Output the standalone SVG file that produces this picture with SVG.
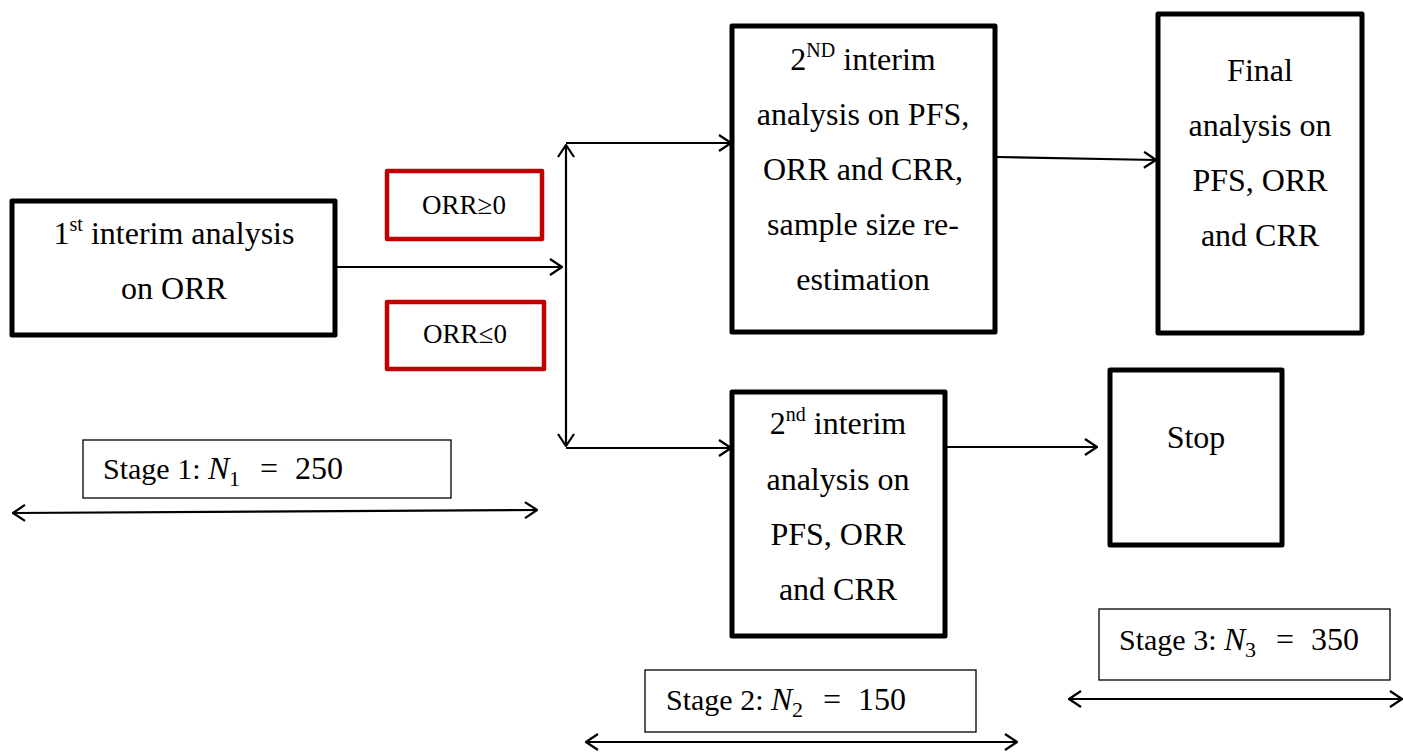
<svg xmlns="http://www.w3.org/2000/svg" width="1403" height="752" viewBox="0 0 1403 752">
<defs>
<marker id="arr" viewBox="0 0 14 18" refX="13" refY="9" markerWidth="14" markerHeight="18" markerUnits="userSpaceOnUse" orient="auto-start-reverse">
<path d="M1,1 L13,9 L1,17" fill="none" stroke="#000" stroke-width="2.2"/>
</marker>
</defs>
<style>
.node{fill:#fff;stroke:#000;stroke-width:5;stroke-linejoin:round}
.red{fill:#fff;stroke:#c00000;stroke-width:4.5;stroke-linejoin:round}
.stage{fill:#fff;stroke:#000;stroke-width:1.3}
.t{font-family:"Liberation Serif","Times New Roman",serif;font-size:32px;fill:#000;text-anchor:middle}
.s{font-family:"Liberation Serif","Times New Roman",serif;font-size:27px;fill:#000;text-anchor:middle}
.st{font-family:"Liberation Serif","Times New Roman",serif;font-size:30px;fill:#000}
.m{font-family:"Liberation Serif","Times New Roman",serif;font-size:32px;fill:#000}
.sup{font-size:20px}
.c{fill:none;stroke:#000;stroke-width:2.2}
</style>
<g id="connectors">
<line class="c" x1="337" y1="267" x2="562" y2="267" marker-end="url(#arr)"/>
<line class="c" x1="566" y1="145" x2="566" y2="446" marker-start="url(#arr)" marker-end="url(#arr)"/>
<line class="c" x1="566" y1="143" x2="731" y2="143" marker-end="url(#arr)"/>
<line class="c" x1="566" y1="448" x2="731" y2="448" marker-end="url(#arr)"/>
<line class="c" x1="997" y1="157" x2="1156" y2="160" marker-end="url(#arr)"/>
<line class="c" x1="947" y1="447" x2="1097" y2="447" marker-end="url(#arr)"/>
<line class="c" x1="13" y1="513" x2="537" y2="510" marker-start="url(#arr)" marker-end="url(#arr)"/>
<line class="c" x1="586" y1="742" x2="1017" y2="742" marker-start="url(#arr)" marker-end="url(#arr)"/>
<line class="c" x1="1069" y1="699" x2="1402" y2="699" marker-start="url(#arr)" marker-end="url(#arr)"/>
</g>
<g id="n1">
<rect class="node" x="12" y="201" width="323" height="134"/>
<text class="t" x="174" y="244">1<tspan class="sup" dy="-13">st</tspan><tspan dy="13"> interim analysis</tspan></text>
<text class="t" x="174" y="299">on ORR</text>
</g>
<g id="cond1">
<rect class="red" x="387" y="171" width="155" height="68"/>
<text class="s" x="464" y="214">ORR≥0</text>
</g>
<g id="cond2">
<rect class="red" x="387" y="302" width="157" height="67"/>
<text class="s" x="465" y="343">ORR≤0</text>
</g>
<g id="n2a">
<rect class="node" x="732" y="26" width="263" height="306"/>
<text class="t" x="863" y="70">2<tspan class="sup" dy="-13">ND</tspan><tspan dy="13"> interim</tspan></text>
<text class="t" x="863" y="125">analysis on PFS,</text>
<text class="t" x="863" y="180">ORR and CRR,</text>
<text class="t" x="863" y="235">sample size re-</text>
<text class="t" x="863" y="290">estimation</text>
</g>
<g id="final">
<rect class="node" x="1158" y="14" width="204" height="319"/>
<text class="t" x="1260" y="81">Final</text>
<text class="t" x="1260" y="136">analysis on</text>
<text class="t" x="1260" y="191">PFS, ORR</text>
<text class="t" x="1260" y="246">and CRR</text>
</g>
<g id="n2b">
<rect class="node" x="732" y="392" width="213" height="244"/>
<text class="t" x="838" y="434">2<tspan class="sup" dy="-13">nd</tspan><tspan dy="13"> interim</tspan></text>
<text class="t" x="838" y="490">analysis on</text>
<text class="t" x="838" y="545">PFS, ORR</text>
<text class="t" x="838" y="600">and CRR</text>
</g>
<g id="stop">
<rect class="node" x="1110" y="370" width="172" height="175"/>
<text class="t" x="1196" y="448">Stop</text>
</g>
<g id="stage1">
<rect class="stage" x="83" y="440" width="368" height="58"/>
<text class="st" x="103" y="479">Stage 1:</text>
<text class="m" x="208" y="479"><tspan font-style="italic">N</tspan><tspan x="229" font-size="22" dy="7">1</tspan><tspan x="260" dy="-7">=</tspan><tspan x="295">250</tspan></text>
</g>
<g id="stage2">
<rect class="stage" x="645" y="670" width="331" height="62"/>
<text class="st" x="666" y="710">Stage 2:</text>
<text class="m" x="771" y="710"><tspan font-style="italic">N</tspan><tspan x="792" font-size="22" dy="7">2</tspan><tspan x="823" dy="-7">=</tspan><tspan x="858">150</tspan></text>
</g>
<g id="stage3">
<rect class="stage" x="1099" y="609" width="291" height="71"/>
<text class="st" x="1119" y="650">Stage 3:</text>
<text class="m" x="1224" y="650"><tspan font-style="italic">N</tspan><tspan x="1245" font-size="22" dy="7">3</tspan><tspan x="1276" dy="-7">=</tspan><tspan x="1311">350</tspan></text>
</g>
</svg>
